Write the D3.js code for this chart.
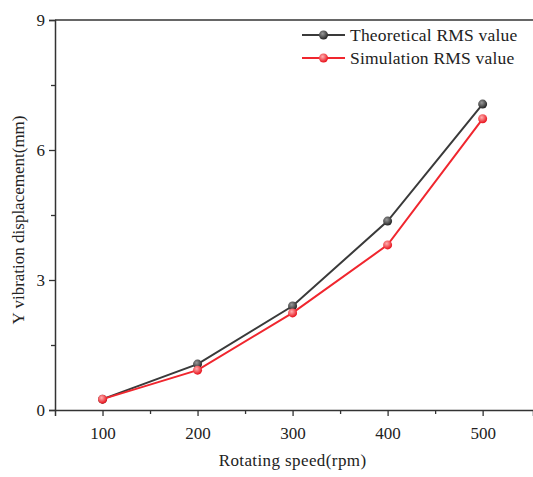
<!DOCTYPE html>
<html>
<head>
<meta charset="utf-8">
<script src="https://cdn.jsdelivr.net/npm/d3@7"></script>
<style>
  body { margin: 0; background: #fff; }
  text { font-family: "Liberation Serif", "DejaVu Serif", serif; fill: #222; }
</style>
</head>
<body>
<div id="chart"></div>
<script>
// data
var speeds = [100, 200, 300, 400, 500];
var theoretical = [0.25, 1.06, 2.40, 4.36, 7.06];
var simulation = [0.25, 0.92, 2.24, 3.81, 6.72];
var seriesNames = ["Theoretical RMS value", "Simulation RMS value"];
var xTicks = [100, 200, 300, 400, 500];
var yTicks = [0, 3, 6, 9];

var margin = {top: 20, right: 0, bottom: 67, left: 55},
    width = 533 - margin.left - margin.right,
    height = 477 - margin.top - margin.bottom;

var svg = d3.select("#chart")
  .append("svg")
    .attr("width", 533)
    .attr("height", 477)
  .append("g")
    .attr("transform", "translate(" + margin.left + "," + margin.top + ")");

var defs = svg.append("defs");
function ball(id, light, dark) {
  var g = defs.append("radialGradient").attr("id", id)
    .attr("cx", "40%").attr("cy", "35%").attr("r", "65%");
  g.append("stop").attr("offset", "0%").attr("stop-color", light);
  g.append("stop").attr("offset", "100%").attr("stop-color", dark);
}
ball("ballBlack", "#9a9a9a", "#222");
ball("ballRed", "#ffb0b0", "#e8101a");

// x scale: 550 sits at the right edge
var x = d3.scaleLinear().domain([50, 553]).range([0, width]);
var y = d3.scaleLinear().domain([0, 9]).range([height, 0]);

// top frame
svg.append("line")
  .attr("x1", 0).attr("x2", width).attr("y1", 0).attr("y2", 0)
  .attr("stroke", "#333").attr("stroke-width", 1.5);

// minor ticks
var xMinor = svg.append("g")
  .attr("transform", "translate(0," + height + ")")
  .call(d3.axisBottom(x).tickValues([150, 250, 350, 450]).tickSize(4).tickFormat(""));
xMinor.select(".domain").remove();
var yMinor = svg.append("g")
  .call(d3.axisLeft(y).tickValues([1.5, 4.5, 7.5]).tickSize(4).tickFormat(""));
yMinor.select(".domain").remove();

var xAxis = svg.append("g")
  .attr("transform", "translate(0," + height + ")")
  .call(d3.axisBottom(x).tickValues(xTicks).tickSize(6).tickPadding(11));
var yAxis = svg.append("g")
  .call(d3.axisLeft(y).tickValues(yTicks).tickSize(6).tickPadding(4));

svg.selectAll(".domain").attr("stroke", "#333").attr("stroke-width", 1.5);
svg.selectAll(".tick line").attr("stroke", "#333").attr("stroke-width", 1.3);
svg.selectAll(".tick text")
  .style("font-family", "Liberation Serif, serif")
  .style("font-size", "17px")
  .attr("fill", "#222");

// lines
var line = d3.line()
  .x(function(d, i) { return x(speeds[i]); })
  .y(function(d) { return y(d); });

var series = [
  {name: seriesNames[0], values: theoretical, color: "#3a3a3a", grad: "url(#ballBlack)"},
  {name: seriesNames[1], values: simulation, color: "#f0262e", grad: "url(#ballRed)"}
];

series.forEach(function(s) {
  svg.append("path")
    .datum(s.values)
    .attr("fill", "none")
    .attr("stroke", s.color)
    .attr("stroke-width", 2)
    .attr("d", line);
  svg.selectAll(null)
    .data(s.values)
    .enter()
    .append("circle")
      .attr("cx", function(d, i) { return x(speeds[i]); })
      .attr("cy", function(d) { return y(d); })
      .attr("r", 4.5)
      .attr("fill", s.grad);
});

// legend
var legend = svg.append("g").attr("transform", "translate(247,15)");
series.forEach(function(s, i) {
  var row = legend.append("g").attr("transform", "translate(0," + (i * 23) + ")");
  row.append("line")
    .attr("x1", 0).attr("x2", 43).attr("y1", 0).attr("y2", 0)
    .attr("stroke", s.color).attr("stroke-width", 2);
  row.append("circle")
    .attr("cx", 21.5).attr("cy", 0).attr("r", 4.5).attr("fill", s.grad);
  row.append("text")
    .attr("x", 48).attr("y", 0).attr("dy", "0.35em")
    .style("font-size", "17.5px")
    .style("letter-spacing", "0.2px")
    .text(s.name);
});

// axis titles
svg.append("text")
  .attr("x", x(300)).attr("y", height + 56)
  .attr("text-anchor", "middle")
  .style("font-size", "17px")
  .style("letter-spacing", "0.4px")
  .text("Rotating speed(rpm)");

svg.append("text")
  .attr("transform", "translate(-31," + (height / 2 + 5) + ") rotate(-90)")
  .attr("text-anchor", "middle")
  .style("font-size", "17px")
  .text("Y vibration displacement(mm)");
</script>
</body>
</html>
